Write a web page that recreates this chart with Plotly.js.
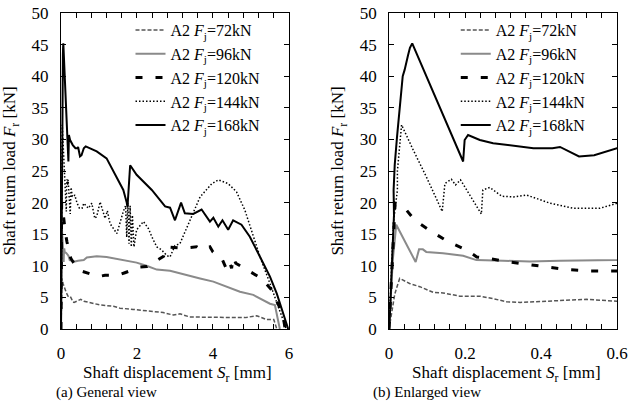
<!DOCTYPE html>
<html>
<head>
<meta charset="utf-8">
<script src="https://cdn.plot.ly/plotly-3.0.1.min.js"></script>
<style>
html,body{margin:0;padding:0;background:#fff;}
#chart{width:629px;height:403px;}
#chart svg text{font-family:'Liberation Serif',serif !important;}
</style>
</head>
<body>
<div id="chart"></div>
<script>
// Series names
const seriesNames = ['A2 <i>F</i><sub>j</sub>=72kN','A2 <i>F</i><sub>j</sub>=96kN','A2 <i>F</i><sub>j</sub>=120kN','A2 <i>F</i><sub>j</sub>=144kN','A2 <i>F</i><sub>j</sub>=168kN'];

// Shaft displacement S_r [mm] and shaft return load F_r [kN]
const S72 = [0,0.005,0.01,0.015,0.02,0.028,0.054,0.081,0.116,0.142,0.186,0.239,0.274,0.31,0.345,0.432,0.52,0.6,0.76,1.03,1.38,1.55,1.9,2.25,2.5,2.69,2.96,3.13,3.39,3.66,4.09,4.5,4.85,5.15,5.41,5.6,5.68];
const F72 = [0,2,4,5.5,6.5,8.0,7.2,6.7,5.8,5.7,5.2,5.2,4.8,4.3,4.2,4.5,4.7,4.4,4.2,3.8,3.6,3.3,3.1,2.9,2.8,2.6,2.2,2.4,1.9,1.9,1.9,1.9,1.8,2.1,1.5,1.5,0];

const S96 = [0,0.003,0.006,0.01,0.015,0.019,0.045,0.070,0.079,0.089,0.098,0.142,0.195,0.23,0.30,0.37,0.45,0.6,0.68,0.94,1.2,1.47,1.73,1.99,2.25,2.52,2.87,3.13,3.39,3.66,4.01,4.36,4.71,5.06,5.32,5.5,5.63,5.76];
const F96 = [0,4,7,11,14,16.5,13.5,10.6,12.6,12.6,12.2,12.0,11.6,10.9,10.8,10.7,10.8,10.9,11.3,11.5,11.4,11.1,10.9,10.5,10.0,9.4,9.2,8.8,8.3,8.0,7.5,6.7,5.9,5.4,4.6,4.0,3.8,0];

const S120 = [0,0.004,0.008,0.012,0.016,0.042,0.068,0.09,0.112,0.156,0.204,0.231,0.257,0.318,0.38,0.432,0.468,0.52,0.573,0.6,0.68,0.98,1.16,1.5,1.68,2.08,2.26,2.56,2.7,2.78,3.2,3.57,3.7,3.92,4.0,4.13,4.23,4.37,4.45,4.49,4.53,4.6,4.75,5.15,5.28,5.54,5.63,5.81,5.85,5.9];
const F120 = [0,5,10,15,19.9,19.1,17.2,16.3,15.4,13.8,12.5,11.4,11.2,10.6,10.1,9.6,9.4,9.2,9.1,9.0,8.9,8.3,8.5,8.5,8.9,9.8,9.9,10.9,11.5,13.0,12.8,13.0,12.5,13.0,12.2,11.7,11.2,9.3,10.4,9.6,11.4,10.4,9.9,8.5,8.0,6.2,5.1,2.7,1.9,0];

const S144 = [0,0.004,0.008,0.012,0.018,0.022,0.022,0.026,0.030,0.033,0.063,0.098,0.140,0.147,0.164,0.175,0.188,0.243,0.247,0.265,0.297,0.327,0.362,0.424,0.485,0.555,0.6,0.72,0.81,0.89,0.94,1.03,1.16,1.22,1.29,1.47,1.64,1.70,1.73,1.76,1.79,1.82,1.85,1.88,1.92,1.99,2.17,2.30,2.39,2.52,2.65,2.79,2.87,3.0,3.13,3.39,3.66,3.97,4.14,4.40,4.62,4.84,5.06,5.24,5.50,5.68,5.85,5.93];
const F144 = [0,6,12,17,20,22,25,28,31,32.3,28.4,24.1,18.6,23.0,23.7,22.8,23.6,18.2,22.0,22.4,21.0,20.9,21.2,19.9,19.1,19.1,19.9,19.1,19.9,17.5,17.8,20.1,17.5,18.7,16.7,15.1,18.6,19.5,14.5,20.0,13.5,19.5,13.0,18.0,13.0,15.7,17.0,15.9,14.6,13.0,12.5,11.6,11.4,13.2,13.5,17.2,20.9,23.0,23.6,23.0,21.7,18.8,14.6,11.4,7.2,4.1,1.2,0];

const S168 = [0,0.003,0.006,0.010,0.013,0.012,0.015,0.021,0.025,0.028,0.030,0.032,0.036,0.041,0.046,0.050,0.055,0.061,0.195,0.199,0.208,0.239,0.274,0.31,0.38,0.43,0.45,0.50,0.54,0.6,0.65,0.94,1.2,1.42,1.64,1.73,1.75,1.82,1.99,2.39,2.74,2.87,3.0,3.16,3.26,3.48,3.70,3.92,4.01,4.14,4.25,4.40,4.53,4.75,4.97,5.24,5.50,5.68,5.85,5.98];
const F168 = [0,3,8,13,18,22,26,30.4,33,35,37,38.5,40,41,42.5,43.3,44.5,45.2,26.5,29.9,30.7,29.9,29.4,29.1,28.6,28.6,28.8,27.3,27.5,28.6,28.9,28.1,27.0,24.6,22.0,20.0,19.3,25.9,24.4,22.0,19.4,19.2,17.2,20.0,18.3,18.2,18.9,17.0,17.6,16.2,17.2,15.7,17.2,16.5,14.6,11.4,8.3,5.6,2.5,0];

// Axis tick labels and texts
const xTickLabelsA = ['0','2','4','6'];
const xTickLabelsB = ['0','0.2','0.4','0.6'];
const yTickLabels = ['0','5','10','15','20','25','30','35','40','45','50'];
const captions = ['(a) General view','(b) Enlarged view'];
const xTitleText = 'Shaft displacement <i>S</i><sub>r</sub> [mm]';
const yTitleText = 'Shaft return load <i>F</i><sub>r</sub> [kN]';

const xs = [S72,S96,S120,S144,S168];
const ys = [F72,F96,F120,F144,F168];
const styles = [
  {color:'#555555', width:1.5, dash:'4px,2px'},
  {color:'#8a8a8a', width:2, dash:'solid'},
  {color:'#000000', width:3, dash:'7px,13px'},
  {color:'#000000', width:1.5, dash:'1.5px,2px'},
  {color:'#000000', width:2, dash:'solid'}
];

const traces = [];
for (let i=0;i<5;i++){
  traces.push({x:xs[i], y:ys[i], type:'scatter', mode:'lines', name:seriesNames[i], line:styles[i], xaxis:'x', yaxis:'y', legend:'legend', hoverinfo:'skip'});
}
for (let i=0;i<5;i++){
  traces.push({x:xs[i], y:ys[i], type:'scatter', mode:'lines', name:seriesNames[i], line:styles[i], xaxis:'x2', yaxis:'y2', legend:'legend2', hoverinfo:'skip'});
}

function ticks(step, n, labelEvery, labels){
  const v=[], t=[];
  for(let i=0;i<=n;i++){ v.push(+(i*step).toFixed(4)); t.push(i%labelEvery===0 ? labels[i/labelEvery] : ''); }
  return {v,t};
}
const tA = ticks(0.4,15,5,xTickLabelsA);
const tB = ticks(0.04,15,5,xTickLabelsB);
const yv = yTickLabels.map(Number);

const axisCommon = {showline:true, linecolor:'#000', linewidth:1, mirror:'ticks', ticks:'inside', ticklen:5, tickcolor:'#000', showgrid:false, zeroline:false, tickfont:{size:17}};
const yTitle = {text:yTitleText, font:{size:17}, standoff:11};

const layout = {
  width:629, height:403,
  margin:{l:61, r:12, t:13, b:74},
  paper_bgcolor:'#fff', plot_bgcolor:'#fff',
  font:{family:'Liberation Serif', color:'#000000', size:17},
  showlegend:true,
  xaxis:Object.assign({}, axisCommon, {domain:[0,0.41], range:[0,6], tickmode:'array', tickvals:tA.v, ticktext:tA.t, anchor:'y', ticklabelstandoff:9}),
  yaxis:Object.assign({}, axisCommon, {domain:[0,1], range:[0,50], tickmode:'array', tickvals:yv, ticktext:yTickLabels, anchor:'x', title:yTitle, ticklabelstandoff:8}),
  xaxis2:Object.assign({}, axisCommon, {domain:[0.59,1], range:[0,0.6], tickmode:'array', tickvals:tB.v, ticktext:tB.t, anchor:'y2', ticklabelstandoff:9}),
  yaxis2:Object.assign({}, axisCommon, {domain:[0,1], range:[0,50], tickmode:'array', tickvals:yv, ticktext:yTickLabels, anchor:'x2', title:yTitle, ticklabelstandoff:8}),
  legend:{x:0.125, y:1.0, xanchor:'left', yanchor:'top', bgcolor:'rgba(0,0,0,0)', font:{size:16}, tracegroupgap:0},
  legend2:{x:0.71, y:1.0, xanchor:'left', yanchor:'top', bgcolor:'rgba(0,0,0,0)', font:{size:16}, tracegroupgap:0},
  annotations:[
    {text:xTitleText, xref:'paper', yref:'paper', x:0.21, y:-0.142, xanchor:'center', yanchor:'middle', showarrow:false, font:{size:17}},
    {text:xTitleText, xref:'paper', yref:'paper', x:0.801, y:-0.142, xanchor:'center', yanchor:'middle', showarrow:false, font:{size:17}},
    {text:captions[0], xref:'paper', yref:'paper', x:-0.012, y:-0.2, xanchor:'left', yanchor:'middle', showarrow:false, font:{size:15}},
    {text:captions[1], xref:'paper', yref:'paper', x:0.558, y:-0.2, xanchor:'left', yanchor:'middle', showarrow:false, font:{size:15}}
  ]
};

Plotly.newPlot('chart', traces, layout, {displayModeBar:false, staticPlot:true});
</script>
</body>
</html>
